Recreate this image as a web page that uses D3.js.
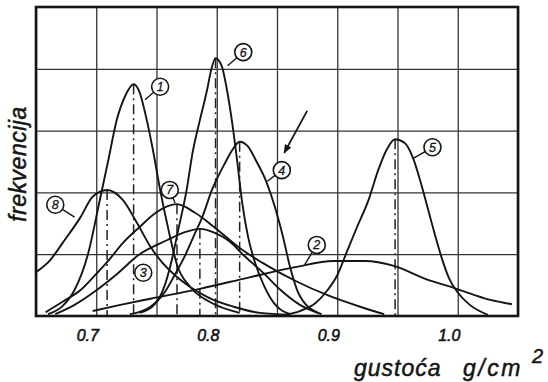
<!DOCTYPE html>
<html><head><meta charset="utf-8">
<script src="https://cdn.jsdelivr.net/npm/d3@7"></script>
<style>html,body{margin:0;padding:0;background:#fff;} svg{display:block;}</style>
</head><body><svg id="c" width="548" height="382"></svg>
<script>
// ---- data (density g/cm3, relative frequency in grid units) ----
const xTicks = [0.7, 0.8, 0.9, 1.0];
const xGridValues = [0.65, 0.7, 0.75, 0.8, 0.85, 0.9, 0.95, 1.0, 1.05];
const yGridValues = [1, 2, 3, 4];

const curve1 = [[0.660,0.03],[0.672,0.16],[0.682,0.42],[0.693,0.99],[0.703,1.88],[0.710,2.52],[0.717,3.17],[0.724,3.56],[0.731,3.75],[0.736,3.62],[0.741,3.25],[0.747,2.69],[0.753,2.04],[0.760,1.39],[0.767,0.83],[0.778,0.47],[0.794,0.23],[0.819,0.05]];
const curve2 = [[0.697,0.08],[0.720,0.18],[0.745,0.28],[0.786,0.44],[0.828,0.63],[0.865,0.79],[0.897,0.89],[0.923,0.89],[0.947,0.81],[0.972,0.61],[0.999,0.44],[1.027,0.26],[1.045,0.19]];
const curve3 = [[0.666,0.03],[0.682,0.18],[0.699,0.40],[0.716,0.66],[0.736,1.00],[0.759,1.23],[0.774,1.36],[0.786,1.41],[0.799,1.34],[0.811,1.20],[0.823,0.97],[0.838,0.71],[0.853,0.42],[0.869,0.18],[0.887,0.03]];
const curve4 = [[0.728,0.03],[0.745,0.15],[0.757,0.39],[0.765,0.66],[0.774,0.99],[0.782,1.34],[0.788,1.60],[0.796,2.04],[0.807,2.48],[0.813,2.69],[0.819,2.82],[0.826,2.74],[0.833,2.50],[0.841,2.18],[0.848,1.78],[0.855,1.28],[0.861,0.78],[0.868,0.36],[0.884,0.05]];
const curve5 = [[0.857,0.02],[0.869,0.08],[0.882,0.21],[0.892,0.42],[0.900,0.66],[0.908,1.04],[0.916,1.42],[0.926,1.88],[0.934,2.36],[0.941,2.69],[0.948,2.86],[0.956,2.80],[0.963,2.55],[0.969,2.18],[0.975,1.75],[0.981,1.32],[0.987,0.92],[0.993,0.60],[1.000,0.38],[1.010,0.18],[1.025,0.02]];
const curve6 = [[0.736,0.05],[0.749,0.20],[0.756,0.45],[0.762,0.85],[0.768,1.39],[0.775,2.04],[0.780,2.65],[0.786,3.17],[0.792,3.66],[0.795,3.95],[0.799,4.17],[0.804,4.05],[0.809,3.60],[0.813,3.10],[0.817,2.50],[0.821,1.85],[0.826,1.28],[0.832,0.85],[0.839,0.50],[0.847,0.22],[0.861,0.03]];
const curve7 = [[0.658,0.06],[0.672,0.23],[0.687,0.42],[0.699,0.66],[0.709,0.87],[0.722,1.18],[0.736,1.44],[0.750,1.68],[0.767,1.81],[0.782,1.67],[0.799,1.42],[0.819,1.10],[0.838,0.86],[0.865,0.57],[0.894,0.32],[0.919,0.15],[0.939,0.03]];
const curve8 = [[0.650,0.71],[0.662,0.91],[0.672,1.18],[0.687,1.60],[0.697,1.93],[0.709,2.04],[0.722,1.88],[0.734,1.50],[0.745,1.12],[0.755,0.86],[0.767,0.63],[0.778,0.47],[0.794,0.29],[0.814,0.15],[0.836,0.05],[0.861,0.02]];

const seriesNames = ["1","2","3","4","5","6","7","8"];
const seriesValues = [curve1, curve2, curve3, curve4, curve5, curve6, curve7, curve8];
// peaks that get a dash-dot marker line
const markedSeries = ["8","1","7","3","6","4","5"];

// circled-number annotations (data coordinates): [label, cx, cy, leaderX, leaderY]
const annotations = [
  ["1", 0.753, 3.71, 0.7405, 3.50],
  ["6", 0.822, 4.27, 0.809, 4.05],
  ["4", 0.854, 2.36, 0.842, 2.18],
  ["5", 0.979, 2.73, 0.963, 2.55],
  ["2", 0.883, 1.15, 0.873, 0.83],
  ["7", 0.761, 2.04, 0.7654, 1.83],
  ["3", 0.739, 0.70, null, null],
  ["8", 0.666, 1.80, 0.682, 1.60]
];
const arrow4 = [[0.875, 3.32], [0.856, 2.64]];

// ---- drawing ----
const svg = d3.select("#c");
svg.append("rect").attr("width",548).attr("height",382).attr("fill","#fff");
const x = d3.scaleLinear().domain([0.65, 1.05]).range([36, 518]);
const y = d3.scaleLinear().domain([0, 5]).range([316, 7]);

const ink = "#151515";
const FONT = "'Liberation Sans', Arial, sans-serif";

// grid via axes
const gx = svg.append("g").attr("transform","translate(0,316)")
  .call(d3.axisBottom(x).tickValues(xGridValues).tickSize(-309).tickFormat(""));
gx.select(".domain").remove();
gx.selectAll("line").attr("stroke","#333").attr("stroke-width",1.3);

const gy = svg.append("g").attr("transform","translate(36,0)")
  .call(d3.axisLeft(y).tickValues(yGridValues).tickSize(-482).tickFormat(""));
gy.select(".domain").remove();
gy.selectAll("line").attr("stroke","#333").attr("stroke-width",1.3);

// dash-dot peak lines
const markers = markedSeries.map(id => {
  const pts = seriesValues[seriesNames.indexOf(id)];
  return pts.reduce((a,b) => b[1] > a[1] ? b : a);
});
svg.append("g").selectAll("line").data(markers).join("line")
  .attr("x1", d => x(d[0])).attr("x2", d => x(d[0]))
  .attr("y1", d => y(d[1])).attr("y2", y(0))
  .attr("stroke", "#222").attr("stroke-width", 1.5)
  .attr("stroke-dasharray", "10,4,2,4");

// frame
svg.append("rect").attr("x", 36).attr("y", 7).attr("width", 482).attr("height", 309)
  .attr("fill","none").attr("stroke", ink).attr("stroke-width", 2.6);

// curves
const line = d3.line().x(d => x(d[0])).y(d => y(d[1])).curve(d3.curveMonotoneX);
svg.append("g").selectAll("path").data(seriesValues).join("path")
  .attr("d", line).attr("fill","none").attr("stroke", ink)
  .attr("stroke-width", 1.9).attr("stroke-linejoin","round");

// annotations
const ann = svg.append("g");
annotations.forEach(a => {
  const [lab, cx, cy, lx, ly] = a;
  const px = x(cx), py = y(cy);
  if (lx !== null) {
    const tx = x(lx), ty = y(ly);
    const dx = tx - px, dy = ty - py, L = Math.hypot(dx, dy);
    ann.append("line").attr("x1", px + dx / L * 8.5).attr("y1", py + dy / L * 8.5)
      .attr("x2", tx).attr("y2", ty).attr("stroke", ink).attr("stroke-width", 1.4);
  }
  ann.append("circle").attr("cx", px).attr("cy", py).attr("r", 8.5)
    .attr("fill", "#fff").attr("stroke", ink).attr("stroke-width", 1.6);
  ann.append("text").attr("x", px).attr("y", py + 4.5).attr("text-anchor","middle")
    .attr("font-family", FONT).attr("font-style","italic").attr("font-size", 12.5)
    .attr("stroke", ink).attr("stroke-width", 0.3)
    .attr("fill", ink).text(lab);
});

// arrow near 4
svg.append("defs").append("marker").attr("id","ah").attr("viewBox","0 0 10 10")
  .attr("refX",9).attr("refY",5).attr("markerWidth",5).attr("markerHeight",5)
  .attr("orient","auto").append("path").attr("d","M0,1 L10,5 L0,9 z").attr("fill", ink);
svg.append("line").attr("x1", x(arrow4[0][0])).attr("y1", y(arrow4[0][1]))
  .attr("x2", x(arrow4[1][0])).attr("y2", y(arrow4[1][1]))
  .attr("stroke", ink).attr("stroke-width", 1.8).attr("marker-end","url(#ah)");

// x tick labels via axis
const ax = svg.append("g").attr("transform","translate(0,316)")
  .call(d3.axisBottom(x).tickValues(xTicks).tickSize(0).tickPadding(14).tickFormat(d3.format(".1f")));
ax.select(".domain").remove();
ax.selectAll("text").attr("font-family", FONT).attr("font-style","italic")
  .attr("font-size", 16).attr("fill", ink).attr("stroke", ink).attr("stroke-width", 0.6).attr("dx", -9);

// axis titles
const titleStyle = sel => sel.attr("font-family", FONT).attr("font-style","italic")
  .attr("fill", ink).attr("stroke", ink).attr("stroke-width", 0.5);
svg.append("text").attr("transform","translate(26,164) rotate(-90)")
  .attr("text-anchor","middle").attr("font-size", 23).attr("letter-spacing", 0.5)
  .call(titleStyle).text("frekvencija");
svg.append("text").attr("x", 354).attr("y", 376).attr("font-size", 23).attr("letter-spacing", 1)
  .call(titleStyle).text("gustoća");
svg.append("text").attr("x", 463).attr("y", 376).attr("font-size", 23).attr("letter-spacing", 2.5)
  .call(titleStyle).text("g/cm");
svg.append("text").attr("x", 532).attr("y", 363).attr("font-size", 20)
  .call(titleStyle).text("2");
</script></body></html>
